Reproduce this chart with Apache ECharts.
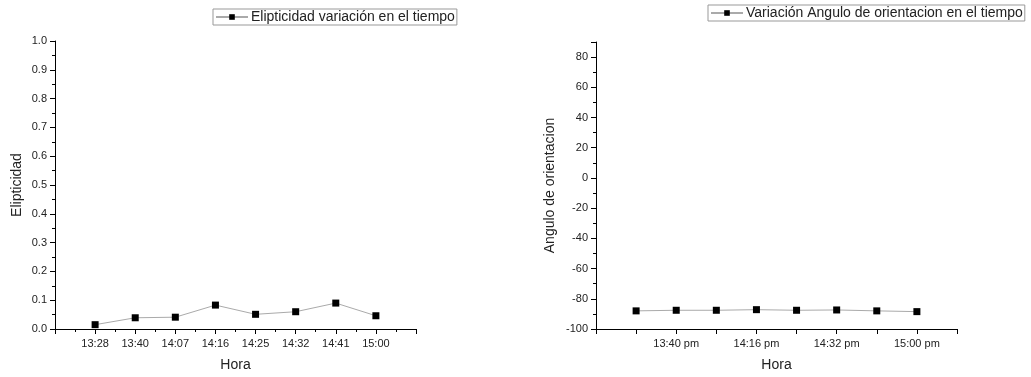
<!DOCTYPE html>
<html>
<head>
<meta charset="utf-8">
<script src="https://cdn.jsdelivr.net/npm/echarts@6/dist/echarts.min.js"></script>
<style>
  html, body { margin: 0; padding: 0; background: #fff; }
  #chart { width: 1031px; height: 377px; }
</style>
</head>
<body>
<div id="chart"></div>
<script>
// Measurement times (x positions 1..8 on a 0..9 axis)
const horas = ['13:28', '13:40', '14:07', '14:16', '14:25', '14:32', '14:41', '15:00'];

// Ellipticity at each time
const elipticidad = [0.015, 0.039, 0.041, 0.083, 0.051, 0.060, 0.090, 0.046];

// Orientation angle (degrees) at each time
const angulo = [-88.0, -87.6, -87.6, -87.2, -87.6, -87.4, -88.0, -88.5];

// Tick labels for the ellipticity y axis
const ticksElipticidad = ['0.0', '0.1', '0.2', '0.3', '0.4', '0.5', '0.6', '0.7', '0.8', '0.9', '1.0'];

const FONT = "'Liberation Sans', Arial, sans-serif";

const toPoints = vals => vals.map((v, i) => [i + 1, v]);

const axisBase = {
  axisLine: { show: true, onZero: false, lineStyle: { color: '#000', width: 1 } },
  axisTick: { show: true, inside: false, length: 5, lineStyle: { color: '#000', width: 1 } },
  minorTick: { show: true, splitNumber: 2, length: 3, lineStyle: { color: '#000', width: 1 } },
  splitLine: { show: false },
  minorSplitLine: { show: false },
  nameTextStyle: { fontFamily: FONT, fontSize: 14, color: '#222' }
};

const labelStyle = { fontFamily: FONT, fontSize: 11, color: '#222' };

const seriesStyle = {
  type: 'line',
  symbol: 'rect',
  symbolSize: 7,
  lineStyle: { color: '#aaa', width: 1 },
  itemStyle: { color: '#000' },
  emphasis: { disabled: true }
};

const legendBase = {
  orient: 'horizontal',
  itemWidth: 32,
  itemHeight: 7,
  itemGap: 4,
  padding: [1, 2, 1, 2],
  borderColor: '#999',
  borderWidth: 1,
  borderRadius: 0,
  textStyle: { fontFamily: FONT, fontSize: 14, color: '#222', padding: [0, 0, 0, -2] },
  selectedMode: false
};

const chart = echarts.init(document.getElementById('chart'), null, { renderer: 'canvas' });

chart.setOption({
  animation: false,
  backgroundColor: '#fff',
  legend: [
    Object.assign({}, legendBase, {
      data: ['Elipticidad variación en el tiempo'],
      left: 213, top: 9
    }),
    Object.assign({}, legendBase, {
      data: ['Variación Angulo de orientacion en el tiempo'],
      left: 708, top: 5
    })
  ],
  grid: [
    { left: 55, top: 41, width: 361, height: 290 },
    { left: 596, top: 42, width: 361, height: 290 }
  ],
  xAxis: [
    Object.assign({}, axisBase, {
      gridIndex: 0, type: 'value', min: 0, max: 9, interval: 1,
      name: 'Hora', nameLocation: 'middle', nameGap: 29,
      axisLabel: Object.assign({}, labelStyle, {
        margin: 9,
        showMinLabel: true, showMaxLabel: true,
        formatter: v => (v >= 1 && v <= horas.length) ? horas[v - 1] : ''
      })
    }),
    Object.assign({}, axisBase, {
      gridIndex: 1, type: 'value', min: 0, max: 9, interval: 1,
      minorTick: { show: false },
      name: 'Hora', nameLocation: 'middle', nameGap: 29,
      axisLabel: Object.assign({}, labelStyle, {
        margin: 9,
        formatter: v => (v >= 1 && v <= horas.length && v % 2 === 0) ? horas[v - 1] + ' pm' : ''
      })
    })
  ],
  yAxis: [
    Object.assign({}, axisBase, {
      gridIndex: 0, type: 'value', min: 0, max: 1, interval: 0.1,
      name: 'Elipticidad', nameLocation: 'middle', nameGap: 31, nameRotate: 90,
      axisLabel: Object.assign({}, labelStyle, {
        margin: 8,
        formatter: v => ticksElipticidad[Math.round(v * 10)]
      })
    }),
    Object.assign({}, axisBase, {
      gridIndex: 1, type: 'value', min: -100, max: 90, interval: 20,
      name: 'Angulo de orientacion', nameLocation: 'middle', nameGap: 39, nameRotate: 90,
      axisLabel: Object.assign({}, labelStyle, {
        margin: 8,
        showMaxLabel: false,
        formatter: v => (v === 90 ? '' : String(v))
      })
    })
  ],
  series: [
    Object.assign({}, seriesStyle, {
      name: 'Elipticidad variación en el tiempo',
      xAxisIndex: 0, yAxisIndex: 0,
      data: toPoints(elipticidad)
    }),
    Object.assign({}, seriesStyle, {
      name: 'Variación Angulo de orientacion en el tiempo',
      xAxisIndex: 1, yAxisIndex: 1,
      data: toPoints(angulo)
    })
  ]
});
</script>
</body>
</html>
